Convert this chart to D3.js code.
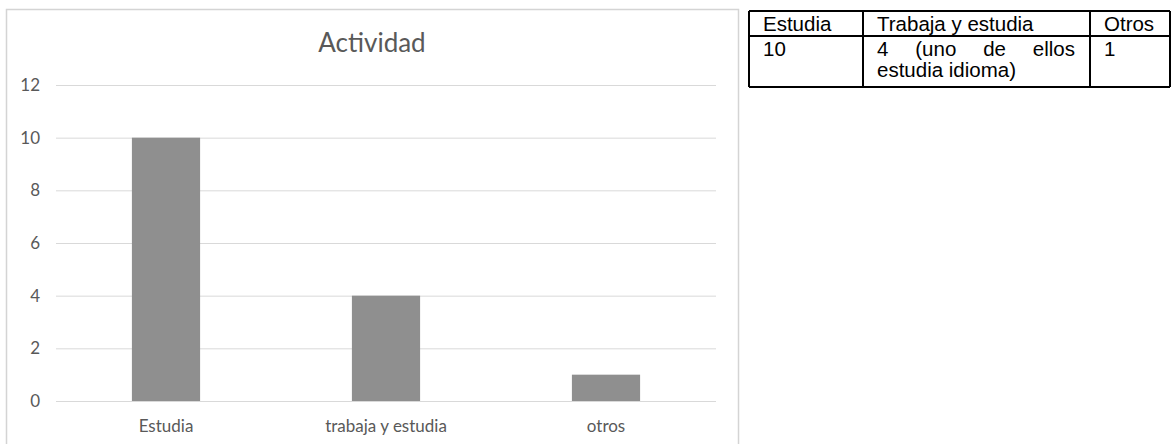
<!DOCTYPE html>
<html><head><meta charset="utf-8">
<script src="https://cdn.jsdelivr.net/npm/d3@7"></script>
<style>body{margin:0;background:#fff;} svg{display:block;}</style>
</head><body>
<script>
const categories = ["Estudia", "trabaja y estudia", "otros"];
const values = [10, 4, 1];
const yTicks = [0, 2, 4, 6, 8, 10, 12];
const chartTitle = "Actividad";
const tableHeaders = ["Estudia", "Trabaja y estudia", "Otros"];
const tableValues = ["10", "4 (uno de ellos estudia idioma)", "1"];

const W = 1172, H = 444;
const svg = d3.select("body").append("svg").attr("width", W).attr("height", H);
svg.append("rect").attr("width", W).attr("height", H).attr("fill", "#fff");

const chartFont = "Lato, 'Open Sans', sans-serif";

// chart frame
svg.append("rect").attr("x", 6.5).attr("y", 9.5).attr("width", 732).attr("height", 460)
  .attr("fill", "none").attr("stroke", "#d4d4d4").attr("stroke-width", 1.5);

const x = d3.scaleBand().domain(categories).range([56, 716]).paddingInner(0.69).paddingOuter(0.345);
const y = d3.scaleLinear().domain([0, 12]).range([401, 85]);

const gy = svg.append("g").attr("transform", "translate(56,0)")
  .call(d3.axisLeft(y).tickValues(yTicks).tickSize(-660).tickPadding(16));
gy.select(".domain").remove();
gy.selectAll(".tick line").attr("stroke", "#d9d9d9").attr("stroke-width", 1);
gy.selectAll(".tick text").attr("fill", "#595959").style("font-family", chartFont).style("font-size", "17px");

const gx = svg.append("g").attr("transform", "translate(0,401)")
  .call(d3.axisBottom(x).tickSize(0));
gx.select(".domain").remove();
gx.selectAll(".tick text").attr("y", 31).attr("dy", 0).attr("fill", "#595959")
  .style("font-family", chartFont).style("font-size", "17px");

svg.append("g").selectAll("rect").data(values).join("rect")
  .attr("x", (d, i) => x(categories[i]))
  .attr("y", d => y(d))
  .attr("width", x.bandwidth())
  .attr("height", d => y(0) - y(d))
  .attr("fill", "#8f8f8f");

svg.append("text").attr("x", 372).attr("y", 52).attr("text-anchor", "middle")
  .attr("fill", "#595959").style("font-family", chartFont).style("font-size", "26px")
  .text(chartTitle);

// table
const colX = [749, 863, 1090, 1170];
const rowY = [11, 36, 87];
const pad = 14;
const tFont = "'Liberation Sans', Arial, sans-serif";
const tSize = 20.5;
const tg = svg.append("g");
// horizontal lines
rowY.forEach(yy => tg.append("line").attr("x1", colX[0]).attr("x2", colX[3]).attr("y1", yy).attr("y2", yy)
  .attr("stroke", "#000").attr("stroke-width", 2));
colX.forEach(xx => tg.append("line").attr("x1", xx).attr("x2", xx).attr("y1", rowY[0]).attr("y2", rowY[2])
  .attr("stroke", "#000").attr("stroke-width", 2));

tableHeaders.forEach((h, i) => {
  tg.append("text").attr("x", colX[i] + pad).attr("y", 31)
    .style("font-family", tFont).style("font-size", tSize + "px").attr("fill", "#000").text(h);
});

function measure(str) {
  const t = tg.append("text").style("font-family", tFont).style("font-size", tSize + "px").text(str);
  const w = t.node().getComputedTextLength();
  t.remove();
  return w;
}
const lineGap = 21;
tableValues.forEach((v, i) => {
  const x0 = colX[i] + pad;
  const avail = colX[i + 1] - colX[i] - pad - 15;
  const words = v.split(" ");
  const lines = [];
  let cur = [];
  words.forEach(w => {
    const test = cur.concat([w]).join(" ");
    if (cur.length && measure(test) > avail) { lines.push(cur); cur = [w]; }
    else cur.push(w);
  });
  if (cur.length) lines.push(cur);
  lines.forEach((ws, li) => {
    const yy = 56 + li * lineGap;
    if (li < lines.length - 1 && ws.length > 1) {
      const widths = ws.map(measure);
      const total = d3.sum(widths);
      const gap = (avail - total) / (ws.length - 1);
      let cx = x0;
      ws.forEach((w, k) => {
        tg.append("text").attr("x", cx).attr("y", yy)
          .style("font-family", tFont).style("font-size", tSize + "px").attr("fill", "#000").text(w);
        cx += widths[k] + gap;
      });
    } else {
      tg.append("text").attr("x", x0).attr("y", yy)
        .style("font-family", tFont).style("font-size", tSize + "px").attr("fill", "#000").text(ws.join(" "));
    }
  });
});
</script>
</body></html>
